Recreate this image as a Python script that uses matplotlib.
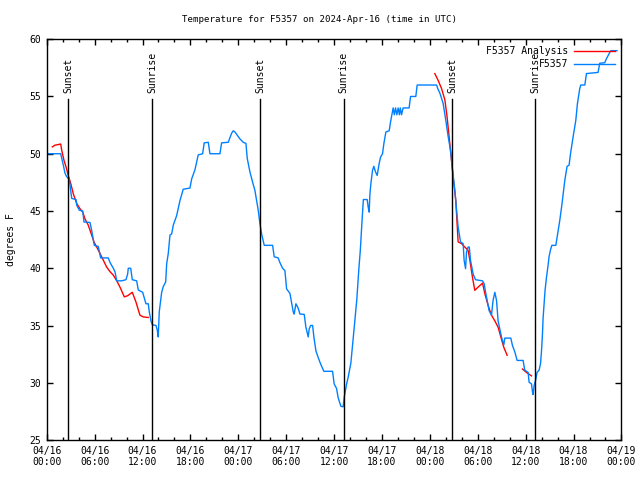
import numpy as np
import matplotlib
matplotlib.use("Agg")
import matplotlib.pyplot as plt
from matplotlib.ticker import MultipleLocator

plt.rcParams['font.family'] = ['DejaVu Sans Mono']
plt.rcParams['font.size'] = 7

# hours since 04/16 00:00 UTC, temperature in F
obs_hours = [0.0, 0.1, 1.75, 2.08, 2.29, 2.50, 2.83, 3.13, 3.67, 3.76, 4.08, 4.51, 4.67, 5.42,
             5.63, 5.96, 6.46, 6.76, 7.71, 7.93, 8.34, 8.55, 8.77, 9.39, 9.93, 10.14, 10.22,
             10.52, 10.72, 11.27, 11.47, 12.02, 12.43, 12.72, 12.85, 13.06, 13.22, 13.69,
             13.85, 13.97, 14.10, 14.40, 14.60, 14.90, 15.03, 15.23, 15.44, 15.65, 15.85,
             16.28, 16.69, 17.10, 17.94, 18.16, 18.57, 18.98, 19.53, 19.73, 20.24, 20.45,
             21.70, 21.91, 22.74, 23.17, 23.37, 23.58, 24.20, 24.62, 24.96, 25.12, 25.46,
             25.80, 26.08, 26.30, 26.50, 26.71, 26.92, 27.25, 28.30, 28.50, 29.00, 29.21,
             29.55, 29.84, 30.05, 30.47, 30.68, 30.88, 31.00, 31.22, 31.51, 31.72, 32.26,
             32.47, 32.76, 32.88, 33.06, 33.31, 33.47, 33.72, 34.01, 34.31, 34.72, 35.81,
             36.01, 36.31, 36.51, 36.85, 37.14, 37.26, 37.57, 37.77, 38.10, 38.35, 38.60,
             38.85, 39.11, 39.29, 39.48, 39.67, 40.15, 40.27, 40.40, 40.48, 40.61, 40.82,
             40.98, 41.20, 41.40, 41.65, 41.82, 42.07, 42.24, 42.49, 42.90, 43.08, 43.24,
             43.40, 43.55, 43.70, 43.86, 44.03, 44.18, 44.30, 44.45, 44.65, 45.40, 45.58,
             46.24, 46.41, 48.84, 49.04, 49.25, 49.66, 50.00, 50.29, 50.59, 50.84, 51.13,
             51.34, 51.54, 51.84, 52.17, 52.29, 52.47, 52.59, 52.79, 52.94, 53.09, 53.42,
             53.72, 54.60, 54.80, 55.01, 55.42, 55.72, 55.92, 56.14, 56.35, 56.55, 56.97,
             57.26, 57.39, 58.14, 58.35, 58.64, 58.93, 59.68, 59.89, 60.31, 60.43, 60.73,
             60.86, 60.93, 61.06, 61.27, 61.43, 61.68, 61.86, 61.98, 62.11, 62.18, 62.31,
             62.43, 62.61, 62.81, 62.93, 63.11, 63.28, 63.78, 64.03, 64.28, 64.53, 64.91,
             65.19, 65.44, 65.62, 65.95, 66.28, 66.49, 66.78, 66.91, 67.41, 67.62, 69.07,
             69.28, 69.91, 70.12, 70.66, 71.45]
obs_temp = [50.75, 50.0, 50.0, 49.0, 48.3, 48.0, 47.75, 46.1, 46.0, 45.5, 45.07, 45.0, 44.04, 44.0,
            43.3, 42.0, 41.9, 40.9, 40.9, 40.5, 40.0, 39.7, 38.9, 38.9, 39.0, 39.5, 40.0,
            40.0, 39.0, 38.9, 38.1, 37.9, 36.9, 36.9, 36.2, 35.4, 35.07, 35.0,
            34.6, 34.0, 36.2, 37.9, 38.4, 38.8, 40.4, 41.3, 42.9, 43.0, 43.75,
            44.6, 45.9, 46.9, 47.0, 47.8, 48.6, 49.9, 50.0, 50.95, 51.0, 50.0,
            50.0, 50.95, 51.0, 51.8, 52.0, 51.9, 51.3, 51.0, 50.9, 49.6, 48.4,
            47.5, 46.8, 45.9, 45.06, 43.9, 43.0, 42.0, 42.0, 41.0, 40.9, 40.5,
            40.0, 39.8, 38.2, 37.8, 37.0, 36.2, 36.0, 36.9, 36.5, 36.0, 35.97,
            34.85, 34.0, 34.7, 35.0, 35.0, 34.0, 32.8, 32.2, 31.65, 31.0, 31.0,
            29.9, 29.5, 28.7, 27.95, 27.9, 28.7, 29.9, 30.5, 31.7, 33.5, 35.4,
            37.3, 40.0, 41.6, 43.9, 46.0, 46.0, 45.35, 44.9, 46.4, 47.4, 48.56,
            48.9, 48.4, 48.1, 49.15, 49.7, 50.0, 50.9, 51.9, 52.0, 52.8, 53.4,
            54.0, 53.4, 54.0, 53.4, 54.0, 53.4, 54.0, 53.4, 54.0, 54.0, 55.0,
            55.0, 56.0, 56.0, 55.6, 55.3, 54.4, 52.9, 51.5, 50.3, 48.6, 46.8,
            45.1, 43.6, 42.3, 42.15, 40.7, 39.96, 41.4, 41.85, 41.85, 40.7, 39.5,
            39.0, 38.9, 38.65, 37.8, 36.3, 35.9, 37.2, 37.9, 37.2, 35.4, 34.0,
            33.3, 33.9, 33.9, 33.25, 32.7, 31.95, 31.95, 31.1, 30.9, 30.05, 29.9,
            29.2, 28.97, 29.75, 30.3, 30.9, 31.1, 31.65, 32.7, 34.3, 35.6, 36.9,
            38.07, 39.2, 40.25, 41.0, 41.6, 42.0, 42.0, 43.1, 44.2, 45.5, 47.7,
            48.9, 49.0, 50.0, 51.5, 52.9, 54.4, 55.7, 56.0, 56.0, 57.0, 57.1,
            57.9, 57.95, 58.3, 59.0, 59.0]

ana_hours = [0.70, 1.04, 1.45, 1.75, 1.88, 2.17, 2.42, 2.70, 3.01, 3.33, 3.76, 4.17, 4.51, 4.80,
             5.21, 5.63, 5.92, 6.26, 6.67, 7.09, 7.51, 7.93, 8.34, 8.77, 9.18, 9.72, 10.14,
             10.72, 11.18, 11.68, 12.10, 12.72, 12.8,
             48.62, 49.04, 49.46, 49.88, 50.16, 50.41, 50.71, 50.91, 51.25, 51.54, 51.97,
             52.38, 52.79, 53.01, 53.34, 53.63, 54.04, 54.60, 54.88, 55.30, 55.72, 56.14,
             56.55, 56.89, 57.26, 57.68, 57.7,
             59.60, 60.10, 60.73]
ana_temp = [50.6, 50.75, 50.8, 50.85, 50.3, 49.4, 48.85, 48.1, 47.4, 46.5, 45.65, 45.2, 44.9, 44.3,
            43.75, 42.9, 42.3, 41.85, 41.3, 40.7, 40.1, 39.7, 39.4, 38.9, 38.35, 37.5, 37.6,
            37.9, 37.05, 35.9, 35.75, 35.7, np.nan,
            57.0, 56.4, 55.7, 54.7, 53.2, 51.5, 49.4, 48.0, 45.9, 42.3, 42.15,
            41.85, 41.56, 40.7, 39.2, 38.07, 38.35, 38.7, 37.8, 36.75, 35.9, 35.4,
            34.85, 34.0, 33.1, 32.4, np.nan,
            31.2, 30.9, 30.6]

sun_hours = [2.70, 13.22, 26.73, 37.22, 50.77, 61.17]
sun_names = ['Sunset', 'Sunrise', 'Sunset', 'Sunrise', 'Sunset', 'Sunrise']

tick_labels = ['04/16\n00:00', '04/16\n06:00', '04/16\n12:00', '04/16\n18:00',
               '04/17\n00:00', '04/17\n06:00', '04/17\n12:00', '04/17\n18:00',
               '04/18\n00:00', '04/18\n06:00', '04/18\n12:00', '04/18\n18:00',
               '04/19\n00:00']

fig = plt.figure(figsize=(6.4, 4.8), dpi=100)
ax = fig.add_axes([0.073, 0.0833, 0.898, 0.835])

ax.plot(ana_hours, ana_temp, color='#ff0000', lw=1, label='F5357 Analysis')
ax.plot(obs_hours, obs_temp, color='#0080ff', lw=1, label='F5357')

for h, name in zip(sun_hours, sun_names):
    ax.axvline(h, ymin=0, ymax=0.851, color='black', lw=1)
    ax.text(h, 0.866, name, transform=ax.get_xaxis_transform(), rotation=90,
            ha='center', va='bottom', fontsize=7)

ax.set_xlim(0, 72)
ax.set_ylim(25, 60)
ax.set_xticks(np.arange(0, 73, 6))
ax.set_xticklabels(tick_labels)
ax.xaxis.set_minor_locator(MultipleLocator(2))
ax.set_yticks(np.arange(25, 61, 5))
ax.tick_params(which='both', direction='in', top=True, right=True, width=1)
ax.tick_params(which='major', length=4.5, pad=4)
ax.tick_params(which='minor', length=2.5)
for s in ax.spines.values():
    s.set_linewidth(1)

ax.set_ylabel('degrees F', labelpad=10)
fig.text(0.5, 1 - 20 / 480, 'Temperature for F5357 on 2024-Apr-16 (time in UTC)',
         ha='center', va='center', fontsize=6.6)
ax.legend(loc='upper right', frameon=False, markerfirst=False, handlelength=4.2,
          borderaxespad=0.3, labelspacing=0.3, handletextpad=0.6, fontsize=7)

fig.savefig('out.png', dpi=100)
